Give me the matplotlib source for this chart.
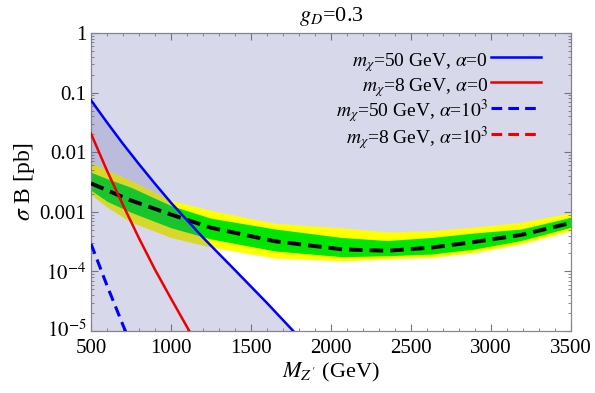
import matplotlib
matplotlib.use("Agg")
import matplotlib.pyplot as plt
import matplotlib.transforms as mtransforms
import numpy as np

plt.rcParams['font.family'] = ['Liberation Serif', 'DejaVu Serif']
plt.rcParams['mathtext.fontset'] = 'stix'

# Expected limit with 1 and 2 sigma bands (pb)
mass_band = [500, 600, 750, 1000, 1250, 1650, 2070, 2350, 2625, 2890, 3190, 3500]
yellow_hi = [6.8e-3, 5.0e-3, 3.35e-3, 1.55e-3, 1.05e-3, 6.4e-4, 5.35e-4, 4.6e-4, 4.8e-4, 5.5e-4, 6.65e-4, 9.6e-4]
green_hi = [4.6e-3, 3.6e-3, 2.58e-3, 1.27e-3, 7.8e-4, 5.15e-4, 3.7e-4, 3.3e-4, 3.7e-4, 4.4e-4, 5.15e-4, 8.1e-4]
expected = [3.0e-3, 2.3e-3, 1.55e-3, 9.0e-4, 5.4e-4, 3.2e-4, 2.34e-4, 2.22e-4, 2.5e-4, 3.1e-4, 4.1e-4, 6.5e-4]
green_lo = [2.3e-3, 1.5e-3, 9.8e-4, 5.4e-4, 3.5e-4, 2.2e-4, 1.76e-4, 1.83e-4, 1.95e-4, 2.35e-4, 3.3e-4, 5.5e-4]
yellow_lo = [1.95e-3, 1.2e-3, 6.7e-4, 3.7e-4, 2.55e-4, 1.67e-4, 1.5e-4, 1.61e-4, 1.71e-4, 2.05e-4, 2.9e-4, 4.8e-4]

# Signal curves (pb)
mass_blue = [500, 600, 700, 800, 900, 1000, 1200, 1400, 1600, 1800]
blue_a0 = [0.0745, 0.0316, 0.0138, 0.0063, 2.95e-3, 1.42e-3, 3.7e-4, 1.05e-4, 2.95e-5, 7.9e-6]
mass_red = [500, 600, 700, 800, 900, 1000, 1100, 1150]
red_a0 = [0.0205, 4.9e-3, 1.3e-3, 3.6e-4, 1.07e-4, 3.5e-5, 1.17e-5, 6.9e-6]
mass_blue_d = [500, 550, 600, 650, 700, 750]
blue_a1e3 = [2.9e-4, 1.3e-4, 5.8e-5, 2.7e-5, 1.25e-5, 6.0e-6]
mass_red_d = [500, 550, 600]
red_a1e3 = [6e-6, 2.5e-6, 1e-6]

y_ticks = [1, 0.1, 0.01, 0.001, 1e-4, 1e-5]
y_ticklabels = ['1', '0.1', '0.01', '0.001', r'$10^{-4}$', r'$10^{-5}$']
x_ticks = [500, 1000, 1500, 2000, 2500, 3000, 3500]

fig = plt.figure(figsize=(5.95, 3.93), dpi=100)
ax = fig.add_axes([91/595, 62/393, 480/595, 298/393])
ax.set_yscale('log')
ax.set_xlim(500, 3500)
ax.set_ylim(1e-5, 1)

lav = (0.4, 0.4, 0.7)
ax.fill_between(mass_band, yellow_lo, yellow_hi, color='#ffff00', lw=0, zorder=1)
ax.fill_between(mass_band, green_lo, green_hi, color='#00e600', lw=0, zorder=2)
ax.fill_between(mass_band, yellow_hi, 1, color=lav, alpha=0.25, lw=0, zorder=3)
ax.fill_between(mass_blue, 1e-5, blue_a0, color=lav, alpha=0.25, lw=0, zorder=3)

ax.plot(mass_band, expected, color='black', lw=2.8, ls=(0, (3.5, 1.8)), zorder=5)
l1, = ax.plot(mass_blue, blue_a0, color='#0000ff', lw=1.8, zorder=6,
              label=r'$m_\chi$=50 GeV, $\alpha$=0' + '\u2002')
l2, = ax.plot(mass_red, red_a0, color='#ee0000', lw=1.8, zorder=6,
              label=r'$m_\chi$=8 GeV, $\alpha$=0' + '\u2002')
l3, = ax.plot(mass_blue_d, blue_a1e3, color='#0000ff', lw=2.2, ls=(0, (3.5, 2)), zorder=6,
              label=r'$m_\chi$=50 GeV, $\alpha$=$10^3$')
l4, = ax.plot(mass_red_d, red_a1e3, color='#ee0000', lw=2.2, ls=(0, (3.5, 2)), zorder=6,
              label=r'$m_\chi$=8 GeV, $\alpha$=$10^3$')

leg = ax.legend(handles=[l1, l2, l3, l4], loc='upper right',
                bbox_to_anchor=((541-91)/480, (331-48)/298),
                frameon=False, markerfirst=False, fontsize=14,
                handlelength=2.55, handleheight=1.55, handletextpad=0.15,
                labelspacing=-0.08, borderpad=0, borderaxespad=0)
for t in leg.get_texts():
    t.set_ha('right')

ax.set_yticks(y_ticks)
ax.set_yticklabels(y_ticklabels)
ax.set_xticks(x_ticks)
ax.set_xticks(np.arange(500, 3501, 100), minor=True)
ax.tick_params(which='both', direction='in', top=True, right=True,
               labelsize=15, color='#777777')
ax.tick_params(which='major', length=5, width=0.8)
ax.tick_params(which='minor', length=2.5, width=0.6)
ax.tick_params(axis='x', pad=6)
for s in ax.spines.values():
    s.set_color('#888888')
    s.set_linewidth(0.9)

# nudge the lowest y tick label up slightly so it does not touch "500"
lab = ax.get_yticklabels()[-1]
lab.set_transform(lab.get_transform() + mtransforms.ScaledTranslation(0, 2/72, fig.dpi_scale_trans))

ax.set_xlabel(r"$M_{Z'}$ (GeV)", fontsize=16, labelpad=2)
ax.set_ylabel(r'$\sigma$ B [pb]', fontsize=17, labelpad=2)
ax.set_title(r'$g_D$=0.3', fontsize=16, pad=9)

fig.savefig('out.png', dpi=100)
